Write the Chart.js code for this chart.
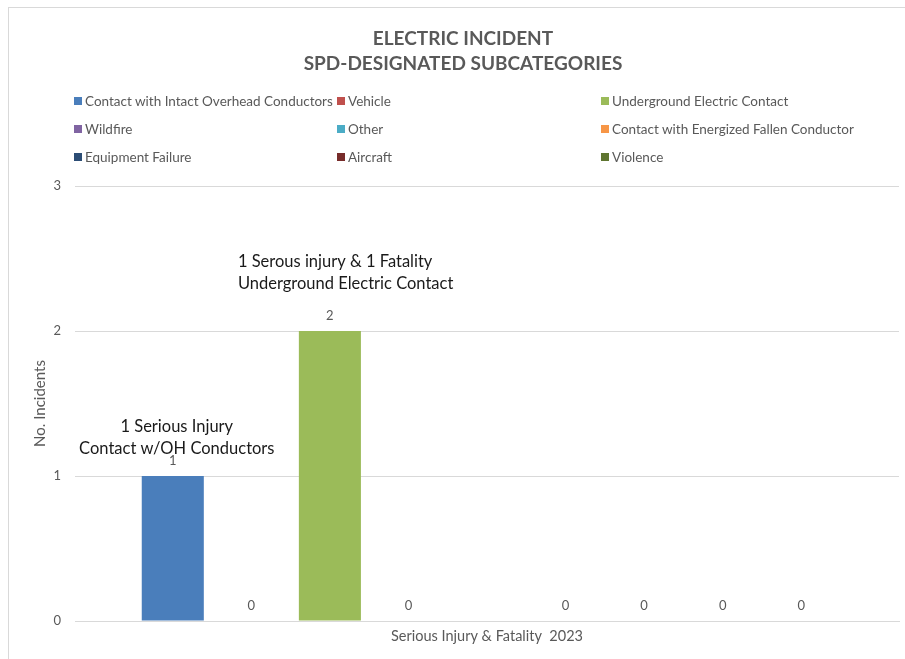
<!DOCTYPE html>
<html>
<head>
<meta charset="utf-8">
<title>Electric Incident</title>
<script src="https://cdn.jsdelivr.net/npm/chart.js@4.4.0/dist/chart.umd.min.js"></script>
<style>
  body { margin: 0; background: #fff; }
  #wrap { position: relative; width: 905px; height: 659px; overflow: hidden; }
  #frame { position: absolute; left: 8px; top: 7px; width: 920px; height: 700px; border: 1px solid #d9d9d9; box-sizing: border-box; pointer-events: none; }
  canvas { position: absolute; left: 0; top: 0; }
  #heading { position: absolute; left: 0; top: 24.5px; width: 926px; text-align: center; font: bold 19px/25px Lato, sans-serif; color: #595959; }
  #legend { position: absolute; left: 74px; top: 92px; display: grid; grid-template-columns: 263px 264px 264px; grid-auto-rows: 28px; font: 13.5px Lato, sans-serif; color: #595959; }
  .item { display: flex; align-items: center; height: 18px; white-space: nowrap; }
  .box { width: 8px; height: 8px; margin-right: 3px; flex: none; }
</style>
</head>
<body>
<div id="wrap">
  <div id="frame"></div>
  <canvas id="myChart" width="905" height="659"></canvas>
  <div id="heading"></div>
  <div id="legend"></div>
</div>
<script>
// categories, series and tick values
const titleLines = ['ELECTRIC INCIDENT', 'SPD-DESIGNATED SUBCATEGORIES'];
const categories = ['Serious Injury & Fatality  2023'];
const seriesNames = [
    'Contact with Intact Overhead Conductors',
    'Vehicle',
    'Underground Electric Contact',
    'Wildfire',
    'Other',
    'Contact with Energized Fallen Conductor',
    'Equipment Failure',
    'Aircraft',
    'Violence'
];
const seriesValues = [1, 0, 2, 0, null, 0, 0, 0, 0];
const seriesColors = ['#4a7ebb', '#c0504d', '#9bbb59', '#8064a2', '#4bacc6', '#f79646', '#2c4d75', '#772c2a', '#5f7530'];
const yTicks = [0, 1, 2, 3];
const noteSeries = [0, 2];
const noteLines = [
    ['1 Serious Injury', 'Contact w/OH Conductors'],
    ['1 Serous injury & 1 Fatality', 'Underground Electric Contact']
];

Chart.defaults.font.family = 'Lato, sans-serif';
Chart.defaults.color = '#595959';

function esc(s) {
    return s.replace(/&/g, '&amp;').replace(/</g, '&lt;');
}

document.getElementById('heading').innerHTML = titleLines.map(esc).join('<br>');

// legend laid out in three columns like the office chart
const legendEl = document.getElementById('legend');
seriesNames.forEach(function (name, i) {
    const item = document.createElement('div');
    item.className = 'item';
    item.innerHTML = '<span class="box" style="background:' + seriesColors[i] + '"></span><span>' + esc(name) + '</span>';
    legendEl.appendChild(item);
});

// value over each bar (nothing for empty series)
const valueLabels = {
    id: 'valueLabels',
    afterDatasetsDraw(chart) {
        const ctx = chart.ctx;
        ctx.save();
        ctx.font = '13px Lato, sans-serif';
        ctx.fillStyle = '#595959';
        ctx.textAlign = 'center';
        ctx.textBaseline = 'middle';
        chart.data.datasets.forEach(function (ds, i) {
            chart.getDatasetMeta(i).data.forEach(function (bar, j) {
                const v = ds.data[j];
                if (v === null || v === undefined) return;
                ctx.fillText(String(v), bar.x, bar.y - 15);
            });
        });
        ctx.restore();
    }
};

// text boxes sitting over the two non-zero bars
const noteStyle = [
    { dx: 4, dy: -49, align: 'center' },
    { dx: -92, dy: -69, align: 'left' }
];
const barNotes = {
    id: 'barNotes',
    afterDatasetsDraw(chart) {
        const ctx = chart.ctx;
        ctx.save();
        ctx.font = '16.5px Lato, sans-serif';
        ctx.fillStyle = '#1a1a1a';
        ctx.textBaseline = 'middle';
        noteSeries.forEach(function (s, k) {
            const bar = chart.getDatasetMeta(s).data[0];
            const st = noteStyle[k];
            ctx.textAlign = st.align;
            noteLines[k].forEach(function (line, n) {
                ctx.fillText(line, bar.x + st.dx, bar.y + st.dy + n * 21.5);
            });
        });
        ctx.restore();
    }
};

const ctx = document.getElementById('myChart').getContext('2d');
const myChart = new Chart(ctx, {
    type: 'bar',
    data: {
        labels: categories,
        datasets: seriesNames.map(function (name, i) {
            return {
                label: name,
                data: [seriesValues[i]],
                backgroundColor: seriesColors[i],
                borderWidth: 0
            };
        })
    },
    options: {
        responsive: false,
        animation: false,
        events: [],
        layout: { padding: { left: 0, right: 6, top: 186, bottom: 0 } },
        datasets: { bar: { categoryPercentage: 0.858, barPercentage: 0.79 } },
        plugins: {
            legend: { display: false },
            tooltip: { enabled: false },
            title: { display: false }
        },
        scales: {
            x: {
                grid: { display: false },
                border: { color: '#d9d9d9' },
                ticks: { color: '#595959', font: { size: 14.5 }, padding: -1 },
                afterFit: function (scale) { scale.height = 38; }
            },
            y: {
                min: yTicks[0],
                max: yTicks[yTicks.length - 1],
                afterBuildTicks: function (scale) {
                    scale.ticks = yTicks.map(function (v) { return { value: v }; });
                },
                ticks: { color: '#595959', font: { size: 13 }, padding: 14 },
                grid: { color: '#d9d9d9', drawTicks: false },
                border: { display: false },
                title: {
                    display: true,
                    text: 'No. Incidents',
                    color: '#595959',
                    font: { size: 15 },
                    padding: { top: 31 }
                },
                afterFit: function (scale) { scale.width = 75; }
            }
        }
    },
    plugins: [valueLabels, barNotes]
});
</script>
</body>
</html>
